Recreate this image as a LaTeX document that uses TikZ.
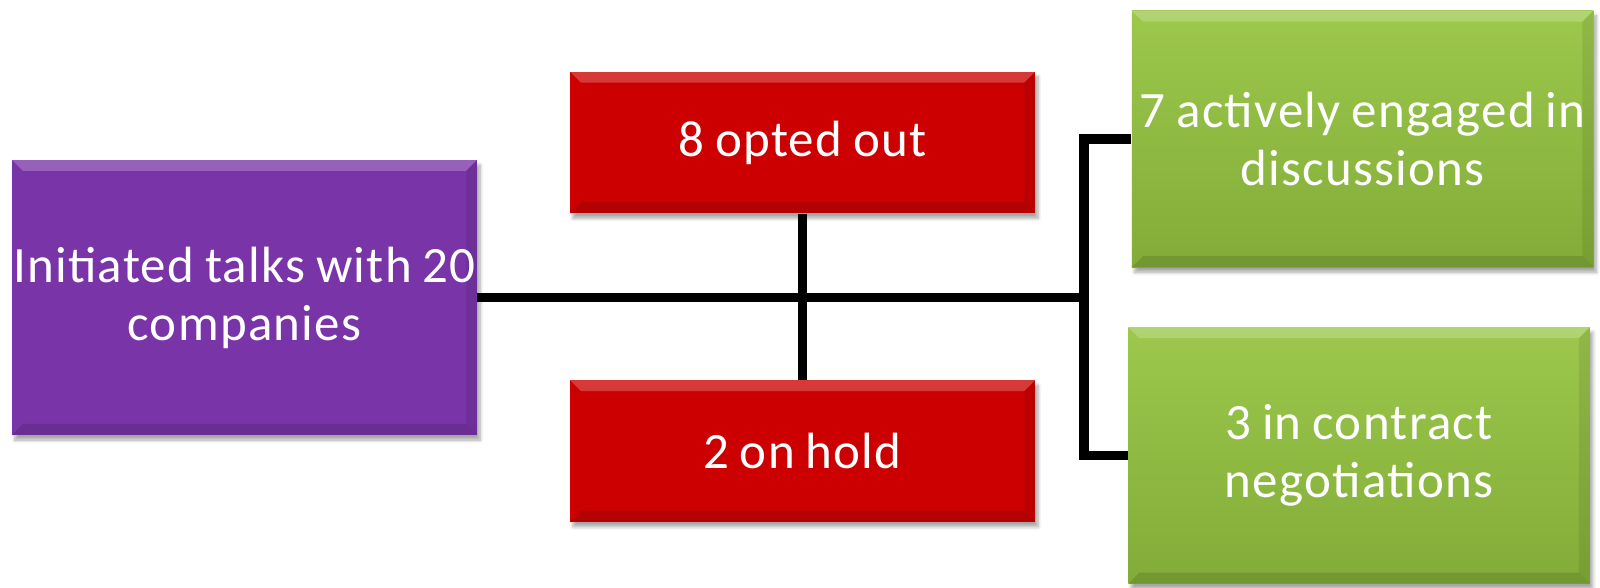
\documentclass[tikz,border=0pt]{standalone}
\usepackage{fontspec}
\setmainfont{Carlito}[WordSpace=0.85, LetterSpace=2.5]
\usetikzlibrary{shadows.blur}
\definecolor{talkpurple}{RGB}{121,52,168}
\definecolor{outred}{RGB}{204,0,0}
\definecolor{dealgreen}{RGB}{141,184,62}
\definecolor{dealgreentop}{RGB}{156,200,76}
\definecolor{dealgreenbot}{RGB}{130,172,56}
\begin{document}
\begin{tikzpicture}
	\tikzset{box/.style={text=white, align=center, inner sep=0pt, font=\fontsize{29}{33}\selectfont,
		blur shadow={shadow xshift=.06cm, shadow yshift=-.1cm, shadow blur steps=6, shadow opacity=35},
		path picture={
			\fill[white, opacity=.22] (path picture bounding box.north west) -- (path picture bounding box.north east)
				-- ([xshift=-.22cm, yshift=-.22cm]path picture bounding box.north east) -- ([xshift=.22cm, yshift=-.22cm]path picture bounding box.north west) -- cycle;
			\fill[black, opacity=.12] (path picture bounding box.south west) -- (path picture bounding box.south east)
				-- ([xshift=-.22cm, yshift=.22cm]path picture bounding box.south east) -- ([xshift=.22cm, yshift=.22cm]path picture bounding box.south west) -- cycle;
			\fill[black, opacity=.08] (path picture bounding box.north east) -- (path picture bounding box.south east)
				-- ([xshift=-.22cm, yshift=.22cm]path picture bounding box.south east) -- ([xshift=-.22cm, yshift=-.22cm]path picture bounding box.north east) -- cycle;
		}}}
	\tikzset{talkbox/.style={box, fill=talkpurple, minimum width=9.3cm, minimum height=5.5cm}}
	\tikzset{outbox/.style={box, fill=outred, minimum width=9.3cm, minimum height=2.83cm}}
	\tikzset{dealbox/.style={box, top color=dealgreentop, bottom color=dealgreenbot, minimum width=9.23cm, minimum height=5.13cm}}
	\tikzset{link/.style={draw, line width=5.5pt}}

	\useasboundingbox (0, 0) rectangle (32, -11.76);

	\node[talkbox] (talks) at (4.89, -5.95) {Initiated talks with 20\\companies};
	\node[outbox] (optout) at (16.05, -2.85) {8 opted out};
	\node[outbox] (hold) at (16.05, -9.02) {2 on hold};
	\node[dealbox] (active) at (27.25, -2.78) {7 actively engaged in\\discussions};
	\node[dealbox] (contract) at (27.18, -9.11) {3 in contract\\negotiations};

	\coordinate (split) at (21.68, -5.95);

	\draw[link] (talks.east) -- (split);
	\draw[link] (optout.south) -- (hold.north);
	\draw[link] (active.west) -| (split) |- (contract.west);
\end{tikzpicture}
\end{document}
